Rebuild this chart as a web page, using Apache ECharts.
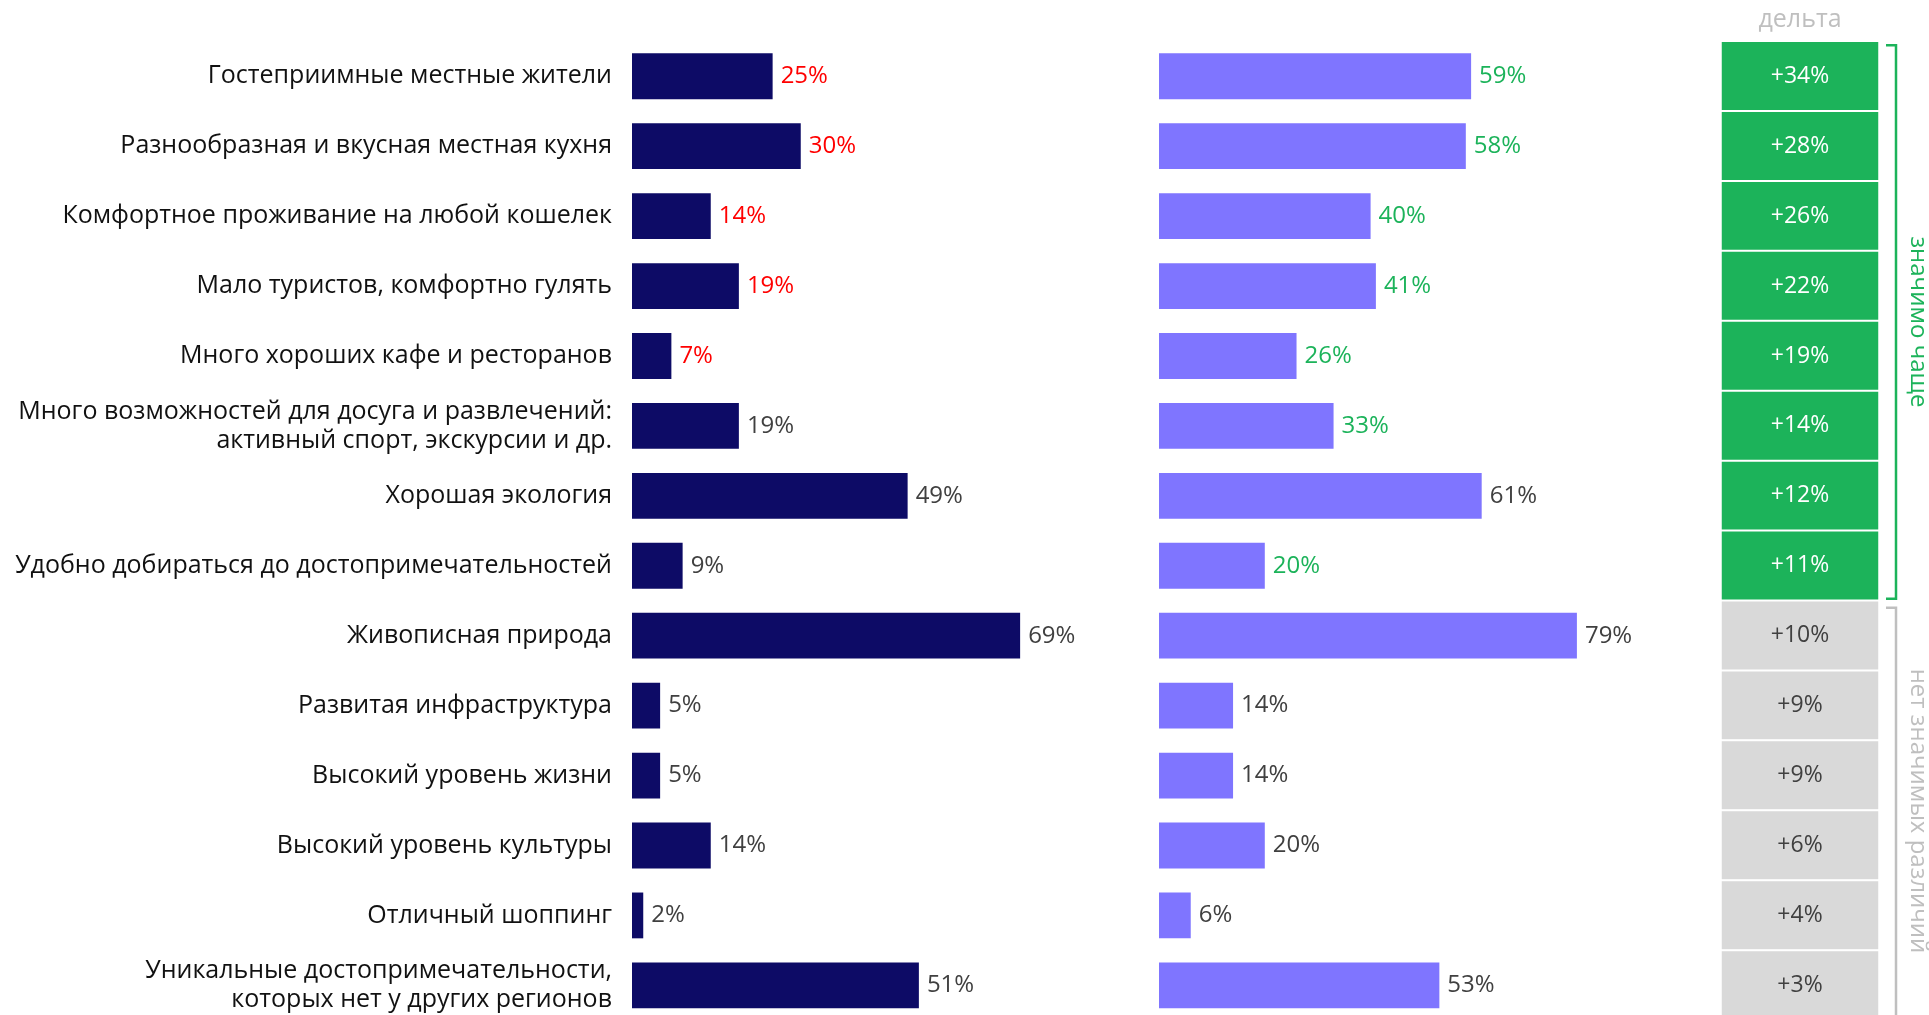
<!DOCTYPE html>
<html>
<head>
<meta charset="utf-8">
<script src="https://cdn.jsdelivr.net/npm/echarts@6/dist/echarts.min.js"></script>
<style>html,body{margin:0;padding:0;background:#fff;overflow:hidden}#c{width:1929px;height:1040px}</style>
</head>
<body>
<div id="c"></div>
<script>
const categories = [
  'Гостеприимные местные жители',
  'Разнообразная и вкусная местная кухня',
  'Комфортное проживание на любой кошелек',
  'Мало туристов, комфортно гулять',
  'Много хороших кафе и ресторанов',
  'Много возможностей для досуга и развлечений:\nактивный спорт, экскурсии и др.',
  'Хорошая экология',
  'Удобно добираться до достопримечательностей',
  'Живописная природа',
  'Развитая инфраструктура',
  'Высокий уровень жизни',
  'Высокий уровень культуры',
  'Отличный шоппинг',
  'Уникальные достопримечательности,\nкоторых нет у других регионов'
];
const leftValues  = [25, 30, 14, 19, 7, 19, 49, 9, 69, 5, 5, 14, 2, 51];
const rightValues = [59, 58, 40, 41, 26, 33, 61, 20, 79, 14, 14, 20, 6, 53];
const deltaValues = [34, 28, 26, 22, 19, 14, 12, 11, 10, 9, 9, 6, 4, 3];
const leftLower   = [1, 1, 1, 1, 1, 0, 0, 0, 0, 0, 0, 0, 0, 0];
const rightHigher = [1, 1, 1, 1, 1, 1, 0, 1, 0, 0, 0, 0, 0, 0];
const deltaSignif = [1, 1, 1, 1, 1, 1, 1, 1, 0, 0, 0, 0, 0, 0];
const deltaHeader = ['дельта'];
const noteSignif = 'значимо чаще';
const noteNone = 'нет значимых различий';

const C = {
  dark: '#0d0b66', light: '#7f75ff', red: '#ff0000', green: '#1cb35a',
  gray: '#404040', boxGray: '#d9d9d9', faint: '#bfbfbf'
};
const gridTop = 41.3, rowH = 69.93, gridH = rowH * categories.length;
const FONT = '"Open Sans", sans-serif';

const chart = echarts.init(document.getElementById('c'), null, {renderer: 'canvas'});

function valueLabel(flags, hiColor) {
  return (v, i) => ({
    value: v,
    label: { color: flags[i] ? hiColor : C.gray }
  });
}

const nSig = deltaSignif.filter(x => x).length;
const brX = 1896;
const sigTop = gridTop + 4, sigBot = gridTop + nSig * rowH - 2;
const noTop = gridTop + nSig * rowH + 7, noBot = gridTop + gridH;

chart.setOption({
  animation: false,
  textStyle: { fontFamily: FONT },
  grid: [
    { left: 632, top: gridTop, width: 450, height: gridH },
    { left: 1159, top: gridTop, width: 423.2, height: gridH },
    { left: 1721, top: gridTop, width: 158, height: gridH }
  ],
  xAxis: [
    { gridIndex: 0, type: 'value', min: 0, max: 80, show: false },
    { gridIndex: 1, type: 'value', min: 0, max: 80, show: false },
    { gridIndex: 2, type: 'category', data: deltaHeader, position: 'top',
      axisLine: { show: false }, axisTick: { show: false }, splitLine: { show: false },
      axisLabel: { color: C.faint, fontSize: 25, fontFamily: FONT, margin: 9 } }
  ],
  yAxis: [
    { gridIndex: 0, type: 'category', data: categories, inverse: true,
      axisLine: { show: false }, axisTick: { show: false },
      axisLabel: { color: '#111', fontSize: 25, fontFamily: FONT, margin: 20, align: 'right', lineHeight: 29 } },
    { gridIndex: 1, type: 'category', data: categories, inverse: true, show: false },
    { gridIndex: 2, type: 'category', data: categories, inverse: true, show: false }
  ],
  series: [
    { type: 'bar', xAxisIndex: 0, yAxisIndex: 0, barWidth: '65.5%',
      itemStyle: { color: C.dark },
      label: { show: true, position: 'right', distance: 8, fontSize: 24, fontFamily: FONT,
               formatter: p => p.value + '%' },
      data: leftValues.map(valueLabel(leftLower, C.red)) },
    { type: 'bar', xAxisIndex: 1, yAxisIndex: 1, barWidth: '65.5%',
      itemStyle: { color: C.light },
      label: { show: true, position: 'right', distance: 8, fontSize: 24, fontFamily: FONT,
               formatter: p => p.value + '%' },
      data: rightValues.map(valueLabel(rightHigher, C.green)) },
    { type: 'heatmap', xAxisIndex: 2, yAxisIndex: 2,
      itemStyle: { borderColor: '#fff', borderWidth: 2 },
      label: { show: true, fontSize: 23, fontFamily: FONT,
               formatter: p => '+' + p.value[2] + '%' },
      data: deltaValues.map((d, i) => ({
        value: [0, i, d],
        itemStyle: { color: deltaSignif[i] ? C.green : C.boxGray },
        label: { color: deltaSignif[i] ? '#fff' : C.gray }
      })) }
  ],
  graphic: [
    { type: 'polyline', silent: true,
      shape: { points: [[brX - 10, sigTop], [brX, sigTop], [brX, sigBot], [brX - 10, sigBot]] },
      style: { stroke: C.green, lineWidth: 2.5, fill: null } },
    { type: 'polyline', silent: true,
      shape: { points: [[brX - 10, noTop], [brX, noTop], [brX, noBot]] },
      style: { stroke: C.faint, lineWidth: 2.5, fill: null } },
    { type: 'text', silent: true, x: 1918, y: (sigTop + sigBot) / 2, rotation: -Math.PI / 2,
      style: { text: noteSignif, fill: C.green, font: '24px ' + FONT, align: 'center', verticalAlign: 'middle' } },
    { type: 'text', silent: true, x: 1918, y: 811, rotation: -Math.PI / 2,
      style: { text: noteNone, fill: C.faint, font: '24px ' + FONT, align: 'center', verticalAlign: 'middle' } }
  ]
});
</script>
</body>
</html>
